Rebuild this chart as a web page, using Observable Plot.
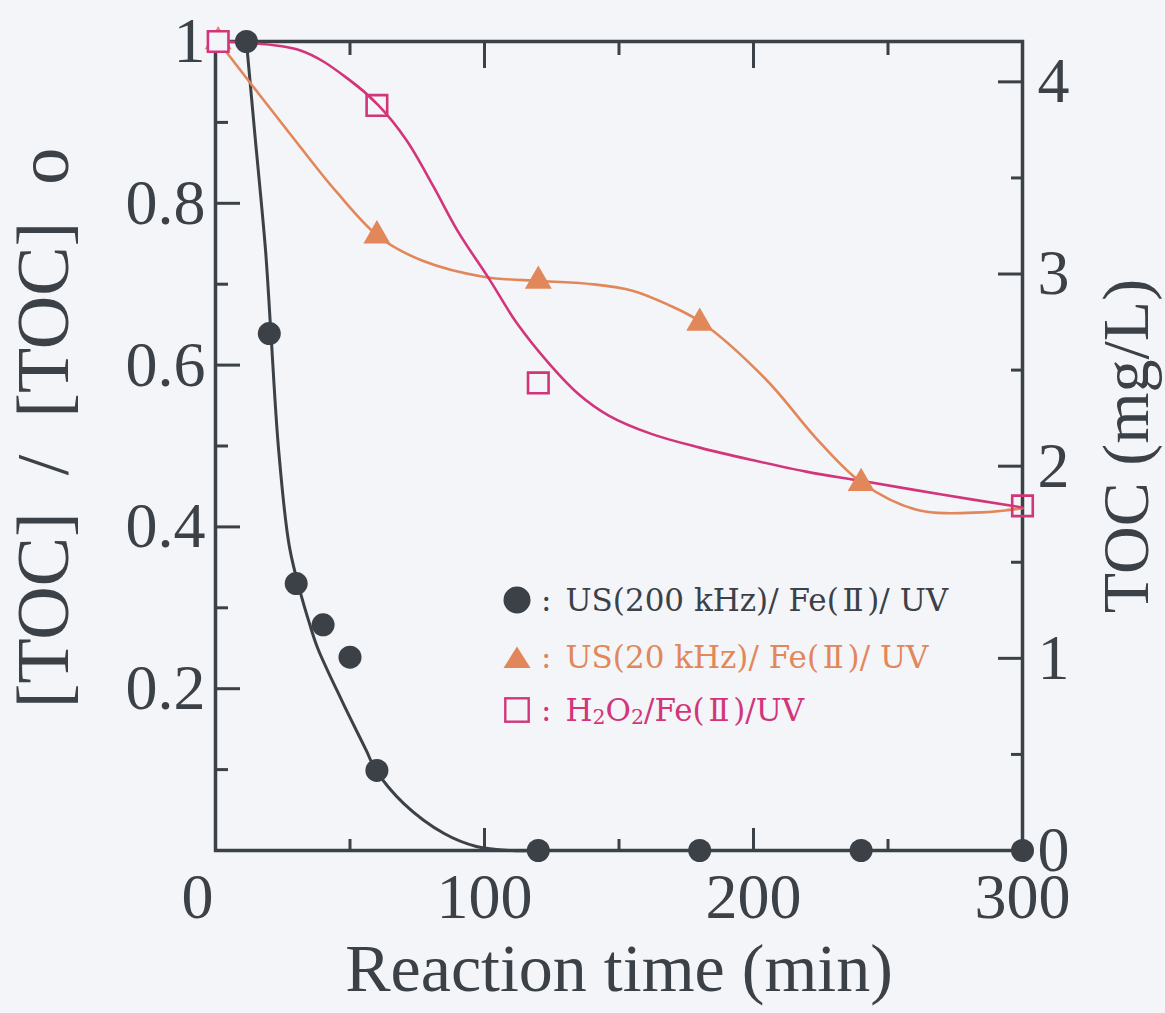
<!DOCTYPE html>
<html><head><meta charset="utf-8">
<script src="https://cdn.jsdelivr.net/npm/d3@7"></script>
<script src="https://cdn.jsdelivr.net/npm/@observablehq/plot@0.6"></script>
<style>
html,body{margin:0;padding:0;background:#f3f5f8;}
#wrap{position:relative;width:1165px;height:1013px;overflow:hidden;}
#legend{position:absolute;left:0;top:0;font-family:"DejaVu Serif","Liberation Serif",serif;font-size:31px;}
.row{position:absolute;white-space:nowrap;display:flex;align-items:center;height:40px;}
.sub{font-size:0.66em;position:relative;top:0.14em;}
.rn{padding:0 0.12em;}
</style></head><body><div id="wrap"><div id="chart"></div><div id="legend"></div></div>
<script>
// ---- measured data (min, [TOC]/[TOC]0) ----
const timeUS200 = [11.5, 20, 30, 40, 50, 60, 120, 180, 240, 300];
const tocUS200  = [1.0, 0.639, 0.33, 0.279, 0.239, 0.099, 0, 0, 0, 0];
const timeUS20  = [1, 60, 120, 180, 240];
const tocUS20   = [1.0, 0.76, 0.704, 0.652, 0.454];
const timeH2O2  = [1, 60, 120, 300];
const tocH2O2   = [1.0, 0.921, 0.578, 0.426];

// ---- fitted curves ----
const fitUS200T = [11.5, 14.5, 18.6, 20.5, 23.5, 27.5, 32.3, 35, 38, 47, 56, 59.5, 70, 85, 97, 110, 120];
const fitUS200V = [1.0, 0.89, 0.742, 0.645, 0.494, 0.375, 0.31, 0.28, 0.25, 0.185, 0.124, 0.1, 0.058, 0.021, 0.005, 0.0, 0.0];
const fitUS20T  = [1, 30, 45, 61, 77, 100, 121, 140, 155, 168, 181, 205, 224, 240.5, 261, 285, 300];
const fitUS20V  = [1.0, 0.876, 0.814, 0.758, 0.729, 0.709, 0.704, 0.700, 0.692, 0.675, 0.652, 0.581, 0.507, 0.454, 0.421, 0.418, 0.423];
const fitH2O2T  = [1, 31.6, 50, 60.6, 71, 81, 90, 102, 112, 124.5, 135, 146, 162, 180, 199, 220, 240, 270, 300];
const fitH2O2V  = [1.0, 0.989, 0.952, 0.921, 0.878, 0.821, 0.766, 0.705, 0.652, 0.6, 0.564, 0.538, 0.515, 0.498, 0.483, 0.468, 0.457, 0.44, 0.424];

// ---- axes ----
const xMajor = [0, 100, 200, 300];
const xMinor = [50, 150, 250];
const xTickLabels = ["0", "100", "200", "300"];
const yMajor = [0, 0.2, 0.4, 0.6, 0.8, 1];
const yMinor = [0.1, 0.3, 0.5, 0.7, 0.9];
const yLabelValues = [0.2, 0.4, 0.6, 0.8, 1];
const yTickLabels = ["0.2", "0.4", "0.6", "0.8", "1"];
const rightMax = 4.21;        // TOC (mg/L) at top of frame
const rMajor = [0, 1, 2, 3, 4];
const rMinor = [0.5, 1.5, 2.5, 3.5];
const rTickLabels = ["0", "1", "2", "3", "4"];

const xLabel = "Reaction time (min)";
const yLabel = "[TOC]\u00a0\u00a0/\u00a0\u00a0[TOC]\u00a0\u00a0o";
const rLabel = "TOC (mg/L)";

const seriesNames = ["US(200 kHz)/ Fe(Ⅱ)/ UV", "US(20 kHz)/ Fe(Ⅱ)/ UV", "H2O2/Fe(Ⅱ)/UV"];

const ink = "#3b4147";
const orange = "#e2875a";
const pink = "#d2357a";
const bg = "#f3f5f8";
const serif = "Liberation Serif, Times New Roman, serif";

const zip = (T, V) => T.map((t, i) => ({t, v: V[i]}));
const us200 = zip(timeUS200, tocUS200);
const us20 = zip(timeUS20, tocUS20);
const h2o2 = zip(timeH2O2, tocH2O2);
const fit200 = zip(fitUS200T, fitUS200V);
const fit20 = zip(fitUS20T, fitUS20V);
const fitH = zip(fitH2O2T, fitH2O2V);

const rToY = r => r / rightMax;
const rMajorY = rMajor.map(rToY);
const rMinorY = rMinor.map(rToY);
const lookup = (vals, labels) => d => { const i = vals.findIndex(v => Math.abs(v - d) < 1e-9); return i < 0 ? "" : labels[i]; };

const blank = () => "";
const common = {label: null, stroke: ink, strokeWidth: 3};
const textCommon = {label: null, tickSize: 0, fill: ink, fontSize: 64, fontFamily: serif};

const chart = Plot.plot({
  width: 1165,
  height: 1013,
  marginLeft: 215,
  marginRight: 143,
  marginTop: 41,
  marginBottom: 163,
  style: {background: "transparent", overflow: "visible"},
  x: {domain: [0, 300], axis: null},
  y: {domain: [0, 1], axis: null},
  marks: [
    // tick marks (inward)
    Plot.axisX(xMajor, {...common, anchor: "bottom", tickSize: -22, tickFormat: blank}),
    Plot.axisX(xMinor, {...common, anchor: "bottom", tickSize: -11, tickFormat: blank}),
    Plot.axisX(xMajor, {...common, anchor: "top", tickSize: -26, tickFormat: blank}),
    Plot.axisX(xMinor, {...common, anchor: "top", tickSize: -13, tickFormat: blank}),
    Plot.axisY(yMajor, {...common, anchor: "left", tickSize: -25, tickFormat: blank}),
    Plot.axisY(yMinor, {...common, anchor: "left", tickSize: -13, tickFormat: blank}),
    Plot.axisY(rMajorY, {...common, anchor: "right", tickSize: -25, tickFormat: blank}),
    Plot.axisY(rMinorY, {...common, anchor: "right", tickSize: -12, tickFormat: blank}),
    // tick labels
    Plot.axisX(xMajor.slice(1), {...textCommon, anchor: "bottom", tickPadding: 22, tickFormat: lookup(xMajor, xTickLabels)}),
    Plot.axisX(xMajor.slice(0, 1), {...textCommon, anchor: "bottom", tickPadding: 22, dx: -18, tickFormat: lookup(xMajor, xTickLabels)}),
    Plot.axisY(yLabelValues, {...textCommon, anchor: "left", tickPadding: 10, tickFormat: lookup(yLabelValues, yTickLabels)}),
    Plot.axisY(rMajorY, {...textCommon, anchor: "right", tickPadding: 15, tickFormat: lookup(rMajorY, rTickLabels)}),
    // axis titles
    Plot.text([xLabel], {frameAnchor: "bottom", dy: 140, text: d => d, fontSize: 68, fontFamily: serif, fill: ink}),
    Plot.text([yLabel], {frameAnchor: "left", textAnchor: "middle", dx: -171, dy: -18, rotate: -90, text: d => d, fontSize: 74, fontFamily: serif, fill: ink}),
    Plot.text([rLabel], {frameAnchor: "right", textAnchor: "middle", dx: 104, dy: 0, rotate: -90, text: d => d, fontSize: 66, fontFamily: serif, fill: ink}),
    // frame
    Plot.frame({stroke: ink, strokeWidth: 3.5}),
    // fitted curves
    Plot.line(fit200, {x: "t", y: "v", curve: "catmull-rom", stroke: ink, strokeWidth: 3}),
    Plot.line(fit20, {x: "t", y: "v", curve: "catmull-rom", stroke: orange, strokeWidth: 2.6}),
    Plot.line(fitH, {x: "t", y: "v", curve: "catmull-rom", stroke: pink, strokeWidth: 2.6}),
    // points
    Plot.dot(us200, {x: "t", y: "v", r: 11.5, fill: ink, stroke: "none"}),
    Plot.dot(us20, {x: "t", y: "v", r: 10, symbol: "triangle", fill: orange, stroke: "none"}),
    Plot.dot(h2o2, {x: "t", y: "v", r: 11.6, symbol: "square", fill: d => d.t === timeH2O2[0] ? bg : "none", stroke: pink, strokeWidth: 2.6})
  ]
});
document.getElementById("chart").appendChild(chart);

// ---- legend ----
const legendColors = [ink, orange, pink];
const legendSymbols = ["circle", "triangle", "square"];
const legendTops = [580, 637, 690];
const legend = document.getElementById("legend");
seriesNames.forEach((name, i) => {
  const row = document.createElement("div");
  row.className = "row";
  row.style.left = "503px";
  row.style.top = legendTops[i] + "px";
  row.style.color = legendColors[i];
  let sym;
  if (legendSymbols[i] === "circle") sym = `<circle cx="14" cy="14" r="13.5" fill="${ink}"/>`;
  else if (legendSymbols[i] === "triangle") sym = `<path d="M14,3.5 L27.5,25 L0.5,25 Z" fill="${orange}"/>`;
  else sym = `<rect x="2.3" y="2.3" width="23.4" height="23.4" fill="none" stroke="${pink}" stroke-width="2.4"/>`;
  const label = name
    .replace(/H2O2/, 'H<span class="sub">2</span>O<span class="sub">2</span>')
    .replace(/Ⅱ/g, '<span class="rn">Ⅱ</span>');
  row.innerHTML = `<svg width="28" height="28" viewBox="0 0 28 28">${sym}</svg><span style="margin:0 14px 0 10px">:</span><span>${label}</span>`;
  legend.appendChild(row);
});
</script>
</body></html>
